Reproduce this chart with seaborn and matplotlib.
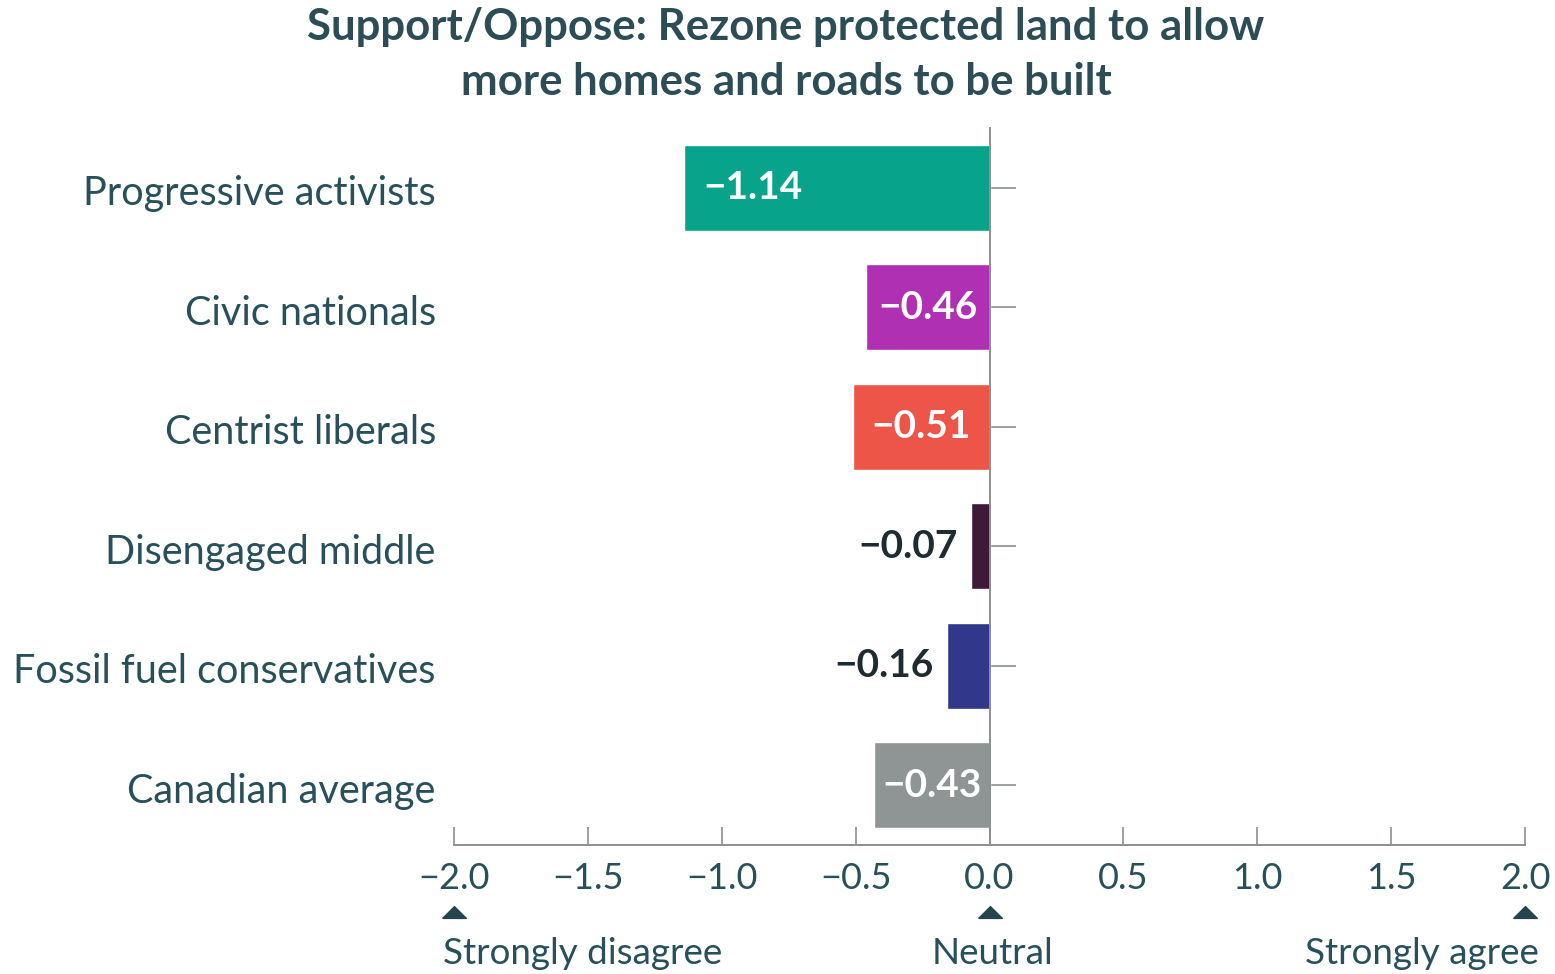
import matplotlib
matplotlib.use("Agg")
import matplotlib.pyplot as plt
import seaborn as sns
import pandas as pd

categories = ["Progressive activists", "Civic nationals", "Centrist liberals",
              "Disengaged middle", "Fossil fuel conservatives", "Canadian average"]
values = [-1.14, -0.46, -0.51, -0.07, -0.16, -0.43]
colors = ["#07a38b", "#b030b3", "#ed5549", "#3d1a38", "#31378b", "#8f9594"]
x_ticks = [-2.0, -1.5, -1.0, -0.5, 0.0, 0.5, 1.0, 1.5, 2.0]
anchor_values = [-2.0, 0.0, 2.0]
anchor_labels = ["Strongly disagree", "Neutral", "Strongly agree"]
title = "Support/Oppose: Rezone protected land to allow\nmore homes and roads to be built"

TEXT = "#28505a"
AXC = "#8a9090"

sns.set_theme(style="white")
plt.rcParams["font.family"] = ["Lato", "DejaVu Sans"]

df = pd.DataFrame({"group": categories, "score": values})

fig = plt.figure(figsize=(15.55, 9.74), dpi=100)
ax = fig.add_axes([454/1555, 1-845/974, (1525-454)/1555, (845-128)/974])

sns.barplot(data=df, x="score", y="group", hue="group", palette=colors,
            orient="h", width=0.72, legend=False, ax=ax, saturation=1)

ax.set_xlim(-2, 2)
ax.set_ylim(len(categories) - 0.5, -0.5)
ax.set_xlabel("")
ax.set_ylabel("")

for s in ["top", "right"]:
    ax.spines[s].set_visible(False)
ax.spines["left"].set_position(("data", 0))
ax.spines["left"].set_color(AXC)
ax.spines["left"].set_linewidth(1.4)
ax.spines["bottom"].set_color(AXC)
ax.spines["bottom"].set_linewidth(1.4)

ax.set_xticks(x_ticks)
ax.set_xticklabels([f"{t:.1f}".replace("-", "\u2212") for t in x_ticks])
ax.tick_params(axis="x", direction="in", length=13, width=1.2, color=AXC,
               labelsize=26, labelcolor=TEXT, pad=12, bottom=True)
ax.tick_params(axis="y", direction="in", length=19, width=1.2, color=AXC,
               left=True, labelleft=False)

ytr = ax.get_yaxis_transform()
for i, cat in enumerate(categories):
    ax.text(-0.017, i + 0.05, cat, transform=ytr, ha="right", va="center",
            fontsize=28.5, color=TEXT)

for i, v in enumerate(values):
    lab = f"{v:.2f}".replace("-", "\u2212")
    if v < -1.0:
        ax.text(v + 0.07, i, lab, ha="left", va="center", fontsize=28,
                fontweight="bold", color="white")
    elif abs(v) > 0.3:
        ax.text(v / 2, i, lab, ha="center", va="center", fontsize=28,
                fontweight="bold", color="white")
    else:
        ax.text(v - 0.05, i, lab, ha="right", va="center", fontsize=28,
                fontweight="bold", color="#1f2b30")

tri = [(-1.0, -0.5), (1.0, -0.5), (0.0, 0.5), (-1.0, -0.5)]
xtr = ax.get_xaxis_transform()
ax.plot(anchor_values, [-0.093] * len(anchor_values), linestyle="none",
        marker=tri, markersize=17, color="#24454e", transform=xtr, clip_on=False)
offsets = [(-0.04, "left"), (0.01, "center"), (0.05, "right")]
for av, al, (off, ha) in zip(anchor_values, anchor_labels, offsets):
    ax.text(av + off, -0.152, al, transform=xtr, ha=ha, va="center",
            fontsize=26.5, color=TEXT)

for k, line in enumerate(title.split("\n")):
    fig.text(786/1555, 1 - (27 + 55 * k)/974, line, ha="center", va="center",
             fontsize=31.5, fontweight="bold", color="#2c4d55")

fig.savefig("out.png", dpi=100, facecolor="white")
